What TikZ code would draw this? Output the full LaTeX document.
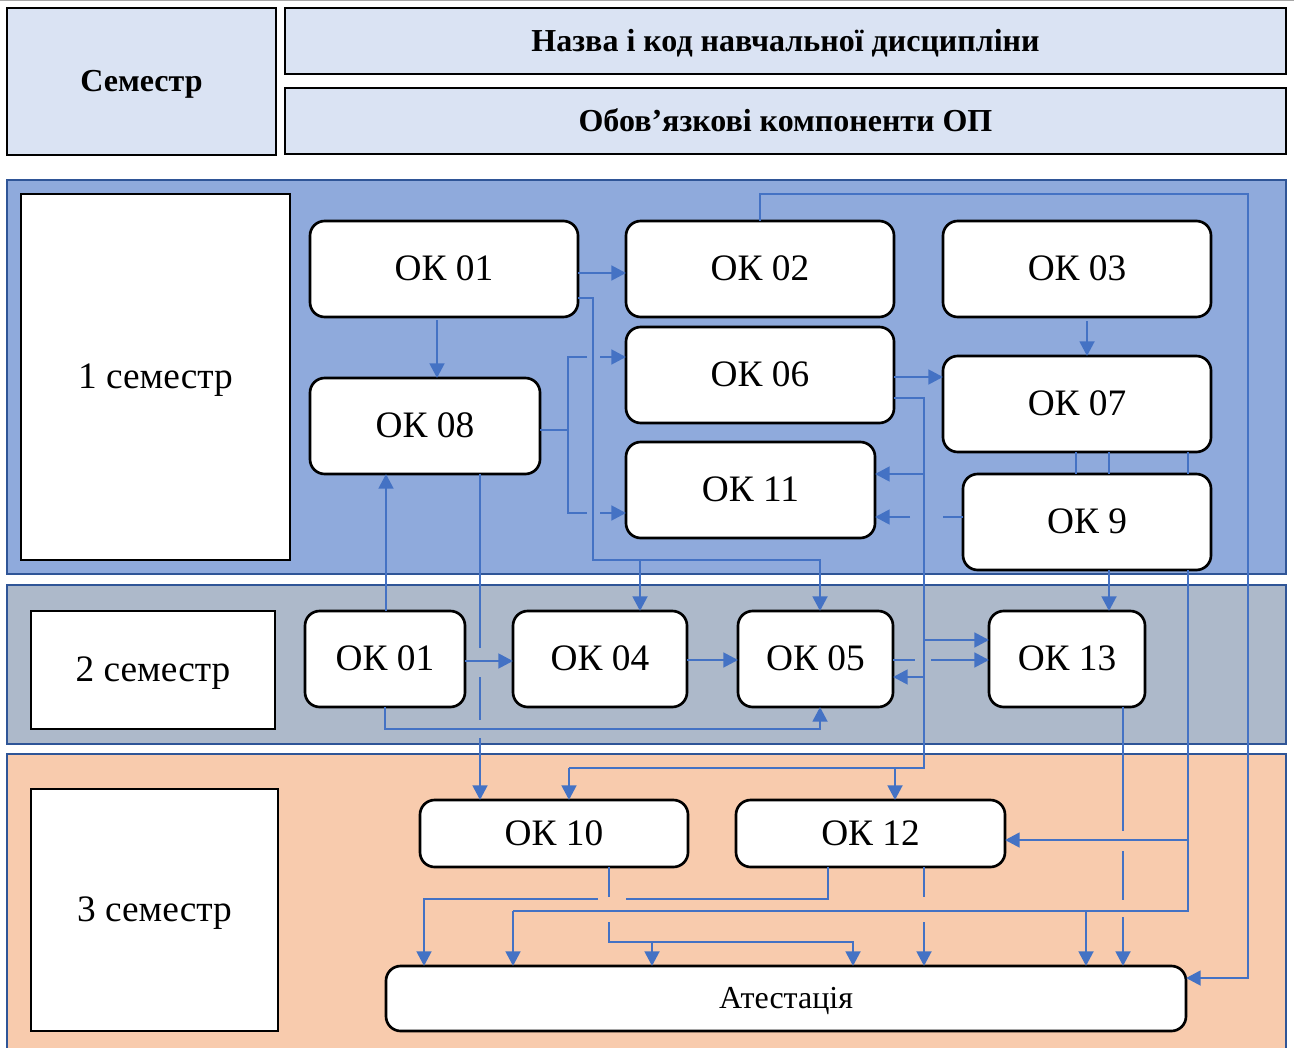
\documentclass[tikz,border=0pt]{standalone}
\usepackage{fontspec}
\setmainfont{Liberation Serif}
\usetikzlibrary{arrows.meta}
\newcommand{\pxu}[1]{#1*0.75pt}
\definecolor{hdrfill}{HTML}{DAE3F3}
\definecolor{bandone}{HTML}{8FAADC}
\definecolor{bandtwo}{HTML}{ADB9CA}
\definecolor{bandthree}{HTML}{F8CBAD}
\definecolor{bandedge}{HTML}{2F5597}
\definecolor{lineblue}{HTML}{4472C4}
\tikzset{
  hdrbox/.style={draw=black, line width=1.7pt, fill=hdrfill, inner sep=0pt, outer sep=0pt,
    text height=15.5pt, text depth=0pt, font=\fontsize{24}{27}\selectfont\bfseries},
  band/.style={draw=bandedge, line width=1.6pt},
  sembox/.style={draw=black, line width=2pt, fill=white, inner sep=0pt, outer sep=0pt,
    text height=17.5pt, text depth=0pt, font=\fontsize{28}{31}\selectfont},
  okbox/.style={draw=black, line width=2pt, fill=white, rounded corners=11pt,
    inner sep=0pt, outer sep=0pt, text height=17.5pt, text depth=0pt,
    font=\fontsize{28}{31}\selectfont},
  attbox/.style={okbox, text height=15pt, font=\fontsize{24}{27}\selectfont},
  conn/.style={draw=lineblue, line width=2.1pt},
  arr/.style={conn, -{Triangle[length=11pt,width=11pt]}}
}
\begin{document}
\begin{tikzpicture}[x=0.75pt, y=-0.75pt]
\useasboundingbox (0,0) rectangle (1294,1048);
\draw[gray!70, line width=0.8pt] (0,0.5) -- (1294,0.5);
% header
\node[hdrbox, minimum width=\pxu{269}, minimum height=\pxu{147}] (hsem) at (141.5,81.5) {Семестр};
\node[hdrbox, minimum width=\pxu{1001}, minimum height=\pxu{66}] (hname) at (785.5,41) {Назва і код навчальної дисципліни};
\node[hdrbox, minimum width=\pxu{1001}, minimum height=\pxu{66}] (hoblig) at (785.5,121) {Обов’язкові компоненти ОП};
% bands
\fill[bandone] (7,180) rectangle (1286,574);
\draw[band] (7,180) rectangle (1286,574);
\fill[bandtwo] (7,585) rectangle (1286,744);
\draw[band] (7,585) rectangle (1286,744);
\fill[bandthree] (7,754) rectangle (1286,1060);
\draw[band] (7,1060) -- (7,754) -- (1286,754) -- (1286,1060);
% semester labels
\node[sembox, minimum width=\pxu{269}, minimum height=\pxu{366}] (s1) at (155.5,377) {1 семестр};
\node[sembox, minimum width=\pxu{244}, minimum height=\pxu{118}] (s2) at (153,670) {2 семестр};
\node[sembox, minimum width=\pxu{247}, minimum height=\pxu{242}] (s3) at (154.5,910) {3 семестр};
% OK nodes
\node[okbox, minimum width=\pxu{268}, minimum height=\pxu{96}] (ok01a) at (444,269) {ОК 01};
\node[okbox, minimum width=\pxu{268}, minimum height=\pxu{96}] (ok02) at (760,269) {ОК 02};
\node[okbox, minimum width=\pxu{268}, minimum height=\pxu{96}] (ok03) at (1077,269) {ОК 03};
\node[okbox, minimum width=\pxu{268}, minimum height=\pxu{96}] (ok06) at (760,375) {ОК 06};
\node[okbox, minimum width=\pxu{268}, minimum height=\pxu{96}] (ok07) at (1077,404) {ОК 07};
\node[okbox, minimum width=\pxu{230}, minimum height=\pxu{96}] (ok08) at (425,426) {ОК 08};
\node[okbox, minimum width=\pxu{249}, minimum height=\pxu{96}] (ok11) at (750.5,490) {ОК 11};
\node[okbox, minimum width=\pxu{248}, minimum height=\pxu{96}] (ok09) at (1087,522) {ОК 9};
\node[okbox, minimum width=\pxu{160}, minimum height=\pxu{96}] (ok01b) at (385,659) {ОК 01};
\node[okbox, minimum width=\pxu{174}, minimum height=\pxu{96}] (ok04) at (600,659) {ОК 04};
\node[okbox, minimum width=\pxu{155}, minimum height=\pxu{96}] (ok05) at (815.5,659) {ОК 05};
\node[okbox, minimum width=\pxu{156}, minimum height=\pxu{96}] (ok13) at (1067,659) {ОК 13};
\node[okbox, minimum width=\pxu{268}, minimum height=\pxu{67}] (ok10) at (554,833.5) {ОК 10};
\node[okbox, minimum width=\pxu{269}, minimum height=\pxu{67}] (ok12) at (870.5,833.5) {ОК 12};
\node[attbox, minimum width=\pxu{800}, minimum height=\pxu{65}] (att) at (786,998.5) {Атестація};
% connectors
\draw[arr] (ok01a.east |- 0,273) -- (ok02.west |- 0,273);
\draw[arr] (ok01a.east |- 0,298) -- (593,298) -- (593,560) -- (820,560) -- (820,0 |- ok05.north);
\draw[arr] (640,560) -- (640,0 |- ok04.north);
\draw[arr] (437,320) -- (437,0 |- ok08.north);
\draw[conn] (ok08.east |- 0,430) -- (568,430);
\draw[conn] (587,357) -- (568,357) -- (568,513) -- (587,513);
\draw[arr] (600,357) -- (ok06.west |- 0,357);
\draw[arr] (600,513) -- (ok11.west |- 0,513);
\draw[arr] (ok06.east |- 0,377) -- (ok07.west |- 0,377);
\draw[conn] (ok06.east |- 0,398) -- (924,398) -- (924,768) -- (569,768);
\draw[arr] (569,768) -- (569,0 |- ok10.north);
\draw[arr] (895,768) -- (895,0 |- ok12.north);
\draw[arr] (924,474) -- (ok11.east |- 0,474);
\draw[arr] (924,640) -- (ok13.west |- 0,640);
\draw[arr] (924,677) -- (ok05.east |- 0,677);
\draw[conn] (ok09.west |- 0,517) -- (943,517);
\draw[arr] (910,517) -- (ok11.east |- 0,517);
\draw[conn] (ok05.east |- 0,660) -- (915,660);
\draw[arr] (931,660) -- (ok13.west |- 0,660);
\draw[arr] (1087,321) -- (1087,0 |- ok07.north);
\draw[conn] (1076,0 |- ok07.south) -- (1076,0 |- ok09.north);
\draw[conn] (1109,0 |- ok07.south) -- (1109,0 |- ok09.north);
\draw[arr] (1109,0 |- ok09.south) -- (1109,0 |- ok13.north);
\draw[conn] (1188,0 |- ok07.south) -- (1188,0 |- ok09.north);
\draw[conn] (1188,0 |- ok09.south) -- (1188,911) -- (513,911);
\draw[arr] (1188,840) -- (ok12.east |- 0,840);
\draw[arr] (513,911) -- (513,0 |- att.north);
\draw[arr] (1086,911) -- (1086,0 |- att.north);
\draw[conn] (1123,0 |- ok13.south) -- (1123,831);
\draw[conn] (1123,851) -- (1123,900);
\draw[arr] (1123,917) -- (1123,0 |- att.north);
\draw[conn] (924,0 |- ok12.south) -- (924,897);
\draw[arr] (924,922) -- (924,0 |- att.north);
\draw[conn] (828,0 |- ok12.south) -- (828,899) -- (626,899);
\draw[arr] (598,899) -- (424,899) -- (424,0 |- att.north);
\draw[conn] (609,0 |- ok10.south) -- (609,897);
\draw[arr] (609,922) -- (609,942) -- (853,942) -- (853,0 |- att.north);
\draw[arr] (652,942) -- (652,0 |- att.north);
\draw[conn] (480,0 |- ok08.south) -- (480,648);
\draw[conn] (480,677) -- (480,720);
\draw[arr] (480,738) -- (480,0 |- ok10.north);
\draw[arr] (386,0 |- ok01b.north) -- (386,0 |- ok08.south);
\draw[arr] (ok01b.east |- 0,661) -- (ok04.west |- 0,661);
\draw[arr] (385,0 |- ok01b.south) -- (385,729) -- (820,729) -- (820,0 |- ok05.south);
\draw[arr] (ok04.east |- 0,660) -- (ok05.west |- 0,660);
\draw[arr] (760,0 |- ok02.north) -- (760,194) -- (1248,194) -- (1248,978) -- (att.east |- 0,978);
\end{tikzpicture}
\end{document}
